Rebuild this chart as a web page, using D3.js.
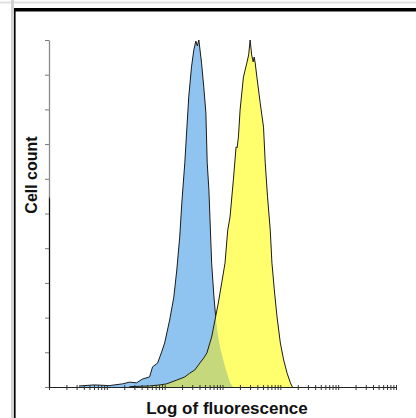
<!DOCTYPE html>
<html><head><meta charset="utf-8">
<script src="https://cdn.jsdelivr.net/npm/d3@7"></script>
<style>body{margin:0;background:#fff}svg{display:block}</style>
</head><body>
<svg id="c" width="416" height="418"></svg>
<script>
// Histogram data: fluorescence (log scale) vs cell count (% of max)
const blueFluor = [3.3, 6.1, 11, 18.6, 24.6, 32.6, 41.4, 54.8, 61.8, 75.5, 88.7, 100, 122, 144, 162, 182, 198, 223, 241, 261, 291, 319, 346, 367, 390, 434, 476, 516, 544, 582, 606, 649, 712, 771, 835, 905, 1105, 1350, 1523];
const blueCount = [0.3, 0.6, 0.4, 0.9, 1.4, 1.2, 2.3, 2.9, 5.8, 6.9, 10.1, 12.7, 19.3, 25.9, 33.7, 43.2, 53.0, 64.6, 74.1, 83.6, 92.2, 97.1, 99.7, 98.3, 100, 93.4, 86.2, 79.0, 64.6, 56.8, 49.0, 35.7, 25.9, 19.3, 15.0, 11.5, 5.8, 1.2, 0];
const yellowFluor = [24.6, 55, 82, 108, 162, 223, 272, 332, 406, 476, 537, 649, 741, 846, 969, 1105, 1231, 1350, 1541, 1718, 1788, 1884, 2014, 2301, 2637, 2833, 3006, 3193, 3390, 3531, 3673, 3933, 4488, 5120, 5479, 6009, 6697, 7163, 7870, 8768, 10000, 11410, 13080, 14930, 16180];
const yellowCount = [0.1, 0.3, 0.6, 0.9, 2.0, 2.9, 4.0, 4.9, 6.9, 8.4, 9.8, 14.4, 19.3, 24.2, 30.0, 35.7, 45.2, 49.0, 59.7, 69.2, 68.9, 72.0, 79.8, 89.3, 93.4, 95.7, 100, 95.7, 93.7, 95.1, 93.4, 89.3, 81.8, 74.9, 64.6, 54.8, 45.2, 35.7, 28.0, 20.2, 12.7, 7.8, 4.0, 1.2, 0];
const xDomain = [1, 1e6];
const yDomain = [0, 100];
const yTickValues = [0, 10, 20, 30, 40, 50, 60, 70, 80, 90, 100];
const xLabel = "Log of fluorescence";
const yLabel = "Cell count";

const svg = d3.select("#c");
// page frame
svg.append("rect").attr("x",0).attr("y",1.5).attr("width",416).attr("height",2).attr("fill","#e2e2e2");
svg.append("rect").attr("x",11).attr("y",0).attr("width",3).attr("height",418).attr("fill","#d2d2d2");
svg.append("rect").attr("x",14).attr("y",8).attr("width",402).attr("height",3.5).attr("fill","#000");
svg.append("rect").attr("x",14).attr("y",8).attr("width",1.6).attr("height",410).attr("fill","#000");

const x = d3.scaleLog().domain(xDomain).range([49, 396]);
const y = d3.scaleLinear().domain(yDomain).range([387, 40]);

const area = d3.area().x(d => x(d[0])).y0(y(0)).y1(d => y(d[1]));
const line = d3.line().x(d => x(d[0])).y(d => y(d[1]));
const blue = blueFluor.map((v,i)=>[v, blueCount[i]]);
const yellow = yellowFluor.map((v,i)=>[v, yellowCount[i]]);

const defs = svg.append("defs");
defs.append("clipPath").attr("id","bclip").append("path").attr("d", area(blue));
const g = defs.append("linearGradient").attr("id","ag").attr("gradientUnits","userSpaceOnUse")
  .attr("x1",0).attr("y1",y(100)).attr("x2",0).attr("y2",y(0));
g.append("stop").attr("offset","0.45").attr("stop-color","#8a8a8a");
g.append("stop").attr("offset","0.46").attr("stop-color","#111");

svg.append("path").attr("d", area(blue)).attr("fill","#8fc4f0");
svg.append("path").attr("d", line(blue)).attr("fill","none").attr("stroke","#1a1a1a").attr("stroke-width",1);
svg.append("path").attr("d", area(yellow)).attr("fill","#ffff6e");
svg.append("path").attr("d", area(yellow)).attr("fill","#c5d87c").attr("clip-path","url(#bclip)");
svg.append("path").attr("d", line(yellow)).attr("fill","none").attr("stroke","#1a1a1a").attr("stroke-width",1);

// x axis (log, minor ticks)
const xt = [];
for (let e = 0; e < 6; e++) for (let m = 1; m < 10; m++) xt.push(m * Math.pow(10, e));
xt.push(1e6);
const xa = svg.append("g").attr("transform","translate(0,387)")
  .call(d3.axisBottom(x).tickValues(xt).tickFormat("").tickSizeOuter(0).tickSizeInner(3));
xa.select(".domain").attr("stroke","#222");
xa.selectAll(".tick line").attr("stroke","#333").attr("y1",-2).attr("y2",3);

// y axis
const ya = svg.append("g").attr("transform","translate(49,0)")
  .call(d3.axisLeft(y).tickValues(yTickValues).tickFormat("").tickSizeOuter(0).tickSizeInner(4));
ya.select(".domain").attr("stroke","url(#ag)").attr("stroke-width",1.3);
ya.selectAll(".tick line").attr("stroke","#777");

svg.append("text").attr("x",227).attr("y",414).attr("text-anchor","middle")
  .attr("font-family","Liberation Sans, Arial, sans-serif").attr("font-weight","bold").attr("font-size",17)
  .attr("fill","#111").text(xLabel);
svg.append("text").attr("transform","translate(37,175) rotate(-90)").attr("text-anchor","middle")
  .attr("font-family","Liberation Sans, Arial, sans-serif").attr("font-weight","bold").attr("font-size",16)
  .attr("fill","#111").text(yLabel);
</script>
</body></html>
